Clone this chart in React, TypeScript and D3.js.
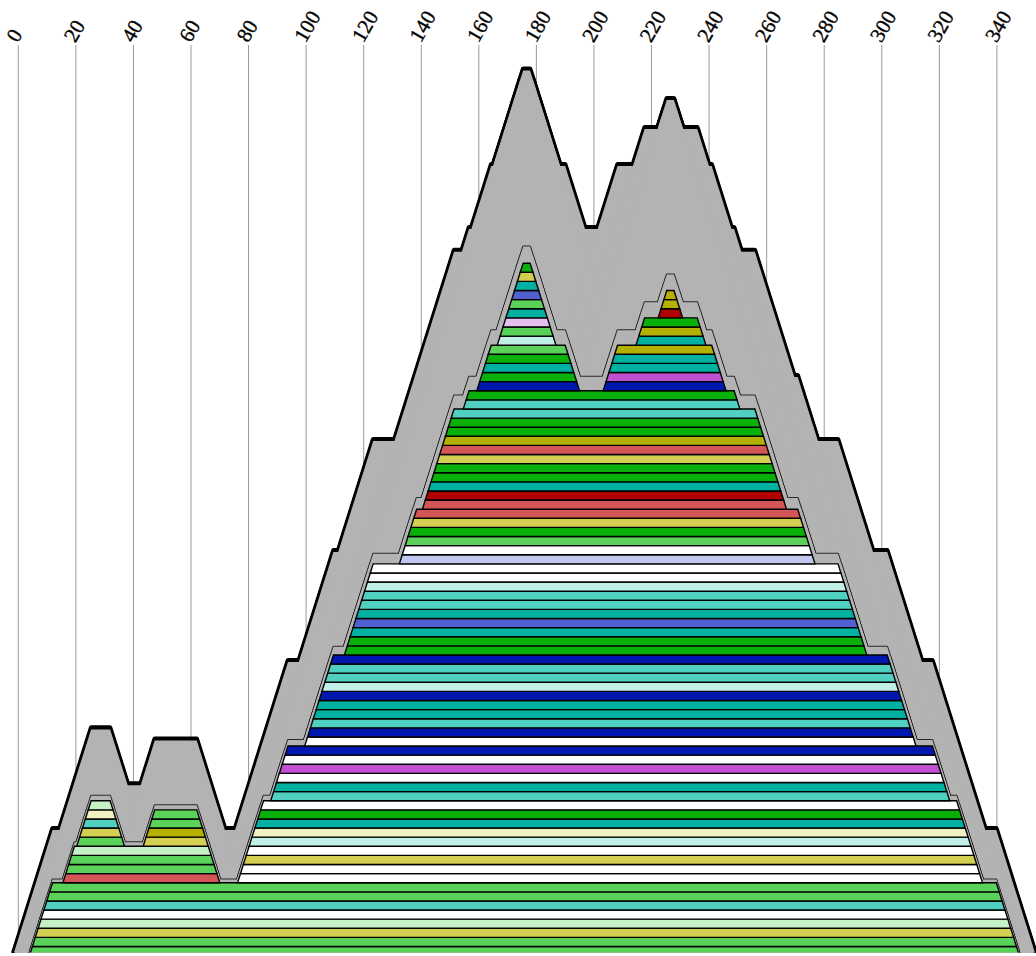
import React from "react";
import * as d3 from "d3";

type Row = [number, number, number, string];

const C = {
  lg: "#5AD25A", // light green
  g: "#0AB00A", // green
  t: "#00B0A0", // teal
  lt: "#50D0C0", // light teal
  pc: "#C0F0E8", // pale cyan
  pg: "#C6F0C6", // pale green
  py: "#F0F0C0", // pale yellow
  y: "#D4CF50", // yellow
  o: "#B4B000", // olive
  s: "#D35555", // salmon
  dr: "#B00000", // dark red
  b: "#0018B0", // blue
  sb: "#5060D0", // slate blue
  m: "#C050D0", // magenta
  pk: "#E8C0F0", // pink
  lv: "#C0C8F0", // lavender
  w: "#FFFFFF",
};

const tickValues = [0, 20, 40, 60, 80, 100, 120, 140, 160, 180, 200, 220, 240, 260, 280, 300, 320, 340];

// [level, start, end, colour] — start/end at the bottom edge of each bar
const baseRows: Row[] = [
  [0, 3.9, 347.8, C.lg], [1, 4.9, 346.8, C.lg], [2, 5.9, 345.8, C.y], [3, 6.9, 344.8, C.pg],
  [4, 7.9, 343.8, C.w], [5, 8.9, 342.8, C.lt], [6, 9.9, 341.8, C.lg], [7, 10.9, 340.8, C.lg],
];

const leftRows: Row[] = [
  [8, 15.5, 70, C.s], [9, 16.5, 69, C.lg], [10, 17.5, 68, C.lg], [11, 18.5, 67, C.pg],
  [12, 20.3, 36.9, C.lg], [13, 21.3, 35.9, C.y], [14, 22.3, 34.9, C.lt], [15, 23.3, 33.9, C.py], [16, 24.3, 32.9, C.pg],
  [12, 43.4, 66, C.y], [13, 44.4, 65, C.o], [14, 45.4, 64, C.lg], [15, 46.4, 63, C.lg],
];

const mainLower: Row[] = [
  [8, 76.2, 335, C.w], [9, 77.2, 334, C.w], [10, 78.2, 333, C.y], [11, 79.2, 332, C.w], [12, 80.2, 331, C.pc],
  [13, 81.2, 330, C.py], [14, 82.2, 329, C.t], [15, 83.2, 328, C.g], [16, 84.2, 327, C.w],
  [17, 87.7, 323.6, C.lt], [18, 88.7, 322.6, C.t], [19, 89.7, 321.6, C.w], [20, 90.7, 320.6, C.m], [21, 91.7, 319.6, C.w], [22, 92.7, 318.6, C.b],
  [23, 99.5, 311.9, C.w], [24, 100.5, 310.9, C.b], [25, 101.5, 309.9, C.lt], [26, 102.5, 308.9, C.t], [27, 103.5, 307.9, C.t],
  [28, 104.5, 306.9, C.b], [29, 105.5, 305.9, C.pc], [30, 106.5, 304.9, C.lt], [31, 107.5, 303.9, C.lt], [32, 108.5, 302.9, C.b],
];

const mainMiddle: Row[] = [
  [33, 113.3, 294.8, C.g], [34, 114.3, 293.8, C.g], [35, 115.3, 292.8, C.t], [36, 116.3, 291.8, C.sb], [37, 117.3, 290.8, C.t],
  [38, 118.3, 289.8, C.lt], [39, 119.3, 288.8, C.lt], [40, 120.3, 287.8, C.pc], [41, 121.3, 286.8, C.w], [42, 122.3, 285.8, C.w],
  [43, 132.4, 276.8, C.lv], [44, 133.4, 275.8, C.w], [45, 134.4, 274.8, C.lg], [46, 135.4, 273.8, C.g], [47, 136.4, 272.8, C.y], [48, 137.4, 271.8, C.s],
  [49, 140.4, 266.9, C.s], [50, 141.4, 265.9, C.dr], [51, 142.4, 264.9, C.t], [52, 143.4, 263.9, C.g], [53, 144.4, 262.9, C.g],
  [54, 145.4, 261.9, C.y], [55, 146.4, 260.9, C.s], [56, 147.4, 259.9, C.o], [57, 148.4, 258.9, C.g], [58, 149.4, 257.9, C.g], [59, 150.4, 256.9, C.lt],
  [60, 154.6, 250.7, C.lt], [61, 155.6, 249.7, C.g],
];

const peakOne: Row[] = [
  [62, 159.3, 195, C.b], [63, 160.3, 194, C.g], [64, 161.3, 193, C.t], [65, 162.3, 192, C.g], [66, 163.3, 191, C.lg],
  [67, 166.4, 186.8, C.pc], [68, 167.4, 185.8, C.lg], [69, 168.4, 184.8, C.pk], [70, 169.4, 183.8, C.t],
  [71, 170.4, 182.8, C.lg], [72, 171.4, 181.8, C.sb], [73, 172.4, 180.8, C.t], [74, 173.4, 179.8, C.y], [75, 174.4, 178.8, C.g],
];

const peakTwo: Row[] = [
  [62, 203.2, 245.9, C.b], [63, 204.2, 244.9, C.m], [64, 205.2, 243.9, C.t], [65, 206.2, 242.9, C.t], [66, 207.2, 241.9, C.o],
  [67, 214.6, 238.9, C.t], [68, 215.6, 237.9, C.o], [69, 216.6, 236.9, C.g],
  [70, 222.3, 230.8, C.dr], [71, 223.3, 229.8, C.o], [72, 224.3, 228.8, C.o],
];

// outline (envelope) height of each level
const envLevelsSide = [0, 17];
const envYSide = [919.6, 729.4];
const envLevelsMain = [8, 17, 23, 33, 43, 49, 62, 67, 70, 73, 76];
const envYMain = [830.5, 746, 662, 552, 441, 377, 229, 166, 129, 100, 70.5];

const W = 1036;
const H = 956;
const GRAY = "#B3B3B3";

export default function App() {
  const x = d3.scaleLinear().domain([0, 340]).range([18.3, 996.9]);
  const yRow = d3.scaleLinear().domain([0, 76]).range([955.6, 263.2]);
  const yEnvSide = d3.scaleLinear().domain(envLevelsSide).range(envYSide);
  const yEnvMain = d3.scaleLinear().domain(envLevelsMain).range(envYMain);
  const yThin = (lvl: number) => yRow(lvl) - (1.5 + 0.2 * lvl);
  const sigma = (x(1) - x(0)) / (yRow(0) - yRow(1));
  const sigmaEnv = 0.315;

  const groups: { rows: Row[]; base: number; env: (v: number) => number }[] = [
    { rows: baseRows, base: 0, env: yEnvSide },
    { rows: leftRows, base: 8, env: yEnvSide },
    { rows: [...mainLower, ...mainMiddle, ...peakOne, ...peakTwo], base: 8, env: yEnvMain },
  ];
  const allRows = groups.flatMap((g) => g.rows);

  const trap = (xl: number, xr: number, yt: number, yb: number, sl: number) => {
    const d = (yb - yt) * sl;
    return `M${xl - d},${yb}L${xl},${yt}L${xr},${yt}L${xr + d},${yb}Z`;
  };

  const envPaths = groups.flatMap((g) =>
    g.rows.map(([k, a, b]) => trap(x(a + 1), x(b - 1), g.env(k + 1), 990, sigmaEnv))
  );
  const thinPaths = groups.flatMap((g) =>
    g.rows.map(([k, a, b]) => trap(x(a + 1), x(b - 1), yThin(k + 1), yRow(g.base), sigma))
  );
  const rowPaths = allRows.map(([k, a, b, c]) => ({
    d: `M${x(a)},${yRow(k)}L${x(a + 1)},${yRow(k + 1)}L${x(b - 1)},${yRow(k + 1)}L${x(b)},${yRow(k)}Z`,
    c,
  }));

  const clipBottom = 952.6;

  return (
    <svg width={W} height={H} style={{ position: "absolute", left: 0, top: 0, background: "#fff" }}>
      <defs>
        <clipPath id="plotClip">
          <rect x={0} y={0} width={W} height={clipBottom} />
        </clipPath>
      </defs>
      <g>
        {tickValues.map((t) => (
          <line key={"g" + t} x1={x(t)} x2={x(t)} y1={45} y2={clipBottom} stroke="#999" strokeWidth={1} />
        ))}
        {tickValues.map((t) => (
          <text
            key={"t" + t}
            transform={`translate(${x(t) - 0.5},43.5) rotate(-60)`}
            fontFamily="'Liberation Serif','Times New Roman',serif"
            fontSize={21}
            fill="#000"
            stroke="#000"
            strokeWidth={0.35}
          >
            {t}
          </text>
        ))}
      </g>
      <g clipPath="url(#plotClip)">
        <g strokeLinejoin="round">
          {envPaths.map((d, i) => (
            <path key={"eu" + i} d={d} transform="translate(0,-1.8)" fill="#000" stroke="#000" strokeWidth={4.5} />
          ))}
          {envPaths.map((d, i) => (
            <path key={"e1" + i} d={d} fill="#000" stroke="#000" strokeWidth={4.5} />
          ))}
          {envPaths.map((d, i) => (
            <path key={"e2" + i} d={d} fill={GRAY} stroke="none" />
          ))}
        </g>
        <g strokeLinejoin="round">
          {thinPaths.map((d, i) => (
            <path key={"t1" + i} d={d} fill={GRAY} stroke="#2a2a2a" strokeWidth={2} />
          ))}
          {thinPaths.map((d, i) => (
            <path key={"t2" + i} d={d} fill={GRAY} stroke="none" />
          ))}
        </g>
        <g>
          {rowPaths.map((r, i) => (
            <path key={"r" + i} d={r.d} fill={r.c} stroke="#000" strokeWidth={1.4} />
          ))}
        </g>
      </g>
    </svg>
  );
}
